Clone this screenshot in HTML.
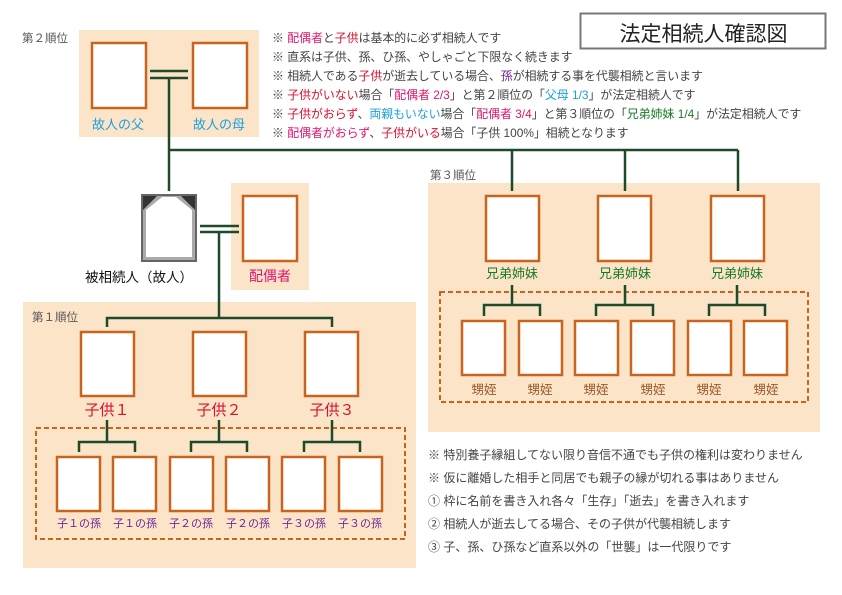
<!DOCTYPE html>
<html><head><meta charset="utf-8"><style>
body{margin:0;width:842px;height:595px;background:#fff;overflow:hidden;position:relative;font-family:"Liberation Sans","Noto Sans CJK JP",sans-serif}
.a{position:absolute;white-space:nowrap}
.n{font-size:11.9px;color:#444;left:272px}
.b{font-size:12px;color:#444;left:428px}
.r{color:#e0146e}.c{color:#d8102c}.bl{color:#1aa0e0}.p{color:#6a2a9a}.g{color:#1a7a2a}
.lb{font-size:12.5px;text-align:center;width:80px}
.s{font-size:11px;text-align:center;width:60px}
</style></head><body>
<svg width="842" height="595" style="position:absolute;left:0;top:0">
<g fill="#fbe4c8">
<rect x="79" y="30" width="180" height="107"/>
<rect x="231" y="183" width="78" height="107"/>
<rect x="23" y="302" width="393" height="266"/>
<rect x="428" y="183" width="392" height="249"/>
</g>
<rect x="580.5" y="13.5" width="245" height="35" fill="#fff" stroke="#777" stroke-width="2"/>
<g fill="#fff" stroke="#c8641e" stroke-width="2.5">
<rect x="92" y="43" width="54" height="65"/>
<rect x="193" y="43" width="54" height="65"/>
<rect x="243" y="196" width="54" height="65"/>
<rect x="81" y="332" width="53" height="64"/>
<rect x="193" y="332" width="53" height="64"/>
<rect x="305" y="332" width="53" height="64"/>
<rect x="486" y="196" width="53" height="65"/>
<rect x="598" y="196" width="53" height="65"/>
<rect x="711" y="196" width="53" height="65"/>
<rect x="57" y="457" width="43" height="54"/><rect x="113" y="457" width="43" height="54"/>
<rect x="170" y="457" width="43" height="54"/><rect x="226" y="457" width="43" height="54"/>
<rect x="282" y="457" width="43" height="54"/><rect x="339" y="457" width="43" height="54"/>
<rect x="462" y="321" width="43" height="54"/><rect x="519" y="321" width="43" height="54"/>
<rect x="575" y="321" width="43" height="54"/><rect x="631" y="321" width="43" height="54"/>
<rect x="688" y="321" width="43" height="54"/><rect x="744" y="321" width="43" height="54"/>
</g>
<g fill="none" stroke="#c8641e" stroke-width="2" stroke-dasharray="5,3">
<rect x="36" y="428" width="369" height="111"/>
<rect x="440" y="292" width="368" height="110"/>
</g>
<rect x="141" y="194" width="56" height="68" fill="#666"/>
<rect x="143" y="196" width="52" height="64" fill="#aaa"/>
<polygon points="146,210 162,197 176,197 192,210 192,257 146,257" fill="#fff"/>
<polygon points="143,196 157,196 143,210" fill="#333"/>
<polygon points="195,196 181,196 195,210" fill="#333"/>
<g stroke="#1e4a2a" stroke-width="2.5" fill="none">
<line x1="150" y1="71" x2="188" y2="71"/><line x1="150" y1="78" x2="188" y2="78"/>
<line x1="169" y1="78" x2="169" y2="191"/>
<polyline points="169,150 738,150"/>
<line x1="512" y1="150" x2="512" y2="191"/><line x1="625" y1="150" x2="625" y2="191"/><line x1="738" y1="150" x2="738" y2="191"/>
<line x1="200" y1="226" x2="239" y2="226"/><line x1="200" y1="232" x2="239" y2="232"/>
<line x1="219" y1="232" x2="219" y2="318"/>
<polyline points="107,327 107,318 332,318 332,327"/>
<line x1="107" y1="420" x2="107" y2="442"/><polyline points="79,452 79,442 135,442 135,452"/>
<line x1="219" y1="420" x2="219" y2="442"/><polyline points="191,452 191,442 247,442 247,452"/>
<line x1="332" y1="420" x2="332" y2="442"/><polyline points="304,452 304,442 360,442 360,452"/>
<line x1="512" y1="285" x2="512" y2="305"/><polyline points="484,316 484,305 540,305 540,316"/>
<line x1="625" y1="285" x2="625" y2="305"/><polyline points="596,316 596,305 653,305 653,316"/>
<line x1="737" y1="285" x2="737" y2="305"/><polyline points="709,316 709,305 765,305 765,316"/>
</g>
</svg>
<div class="a" style="left:22px;top:30px;font-size:11.5px;color:#555">第２順位</div>
<div class="a" style="left:32px;top:309px;font-size:11.5px;color:#555">第１順位</div>
<div class="a" style="left:430px;top:167px;font-size:11.5px;color:#555">第３順位</div>
<div class="a" style="left:580px;top:18px;width:247px;text-align:center;font-size:21px;color:#222">法定相続人確認図</div>
<div class="a n" style="top:29px">※ <span class="r">配偶者</span>と<span class="c">子供</span>は基本的に必ず相続人です</div>
<div class="a n" style="top:48px">※ 直系は子供、孫、ひ孫、やしゃごと下限なく続きます</div>
<div class="a n" style="top:67px">※ 相続人である<span class="c">子供</span>が逝去している場合、<span class="p">孫</span>が相続する事を代襲相続と言います</div>
<div class="a n" style="top:86px">※ <span class="c">子供がいない</span>場合「<span class="r">配偶者 2/3</span>」と第２順位の「<span class="bl">父母 1/3</span>」が法定相続人です</div>
<div class="a n" style="top:105px">※ <span class="c">子供がおらず</span>、<span class="bl">両親もいない</span>場合「<span class="r">配偶者 3/4</span>」と第３順位の「<span class="g">兄弟姉妹 1/4</span>」が法定相続人です</div>
<div class="a n" style="top:124px">※ <span class="r">配偶者がおらず</span>、<span class="c">子供がいる</span>場合「子供 100%」相続となります</div>
<div class="a lb bl" style="left:78px;top:114px;font-size:13px">故人の父</div>
<div class="a lb bl" style="left:179px;top:114px;font-size:13px">故人の母</div>
<div class="a" style="left:85px;top:266px;font-size:13.5px;color:#111">被相続人（故人）</div>
<div class="a lb r" style="left:230px;top:266px;font-size:14px">配偶者</div>
<div class="a lb c" style="left:67px;top:399px;font-size:15px">子供１</div>
<div class="a lb c" style="left:179px;top:399px;font-size:15px">子供２</div>
<div class="a lb c" style="left:292px;top:399px;font-size:15px">子供３</div>
<div class="a s p" style="left:49px;top:515px">子１の孫</div>
<div class="a s p" style="left:105px;top:515px">子１の孫</div>
<div class="a s p" style="left:161px;top:515px">子２の孫</div>
<div class="a s p" style="left:218px;top:515px">子２の孫</div>
<div class="a s p" style="left:274px;top:515px">子３の孫</div>
<div class="a s p" style="left:330px;top:515px">子３の孫</div>
<div class="a lb g" style="left:472px;top:263px;font-size:13px">兄弟姉妹</div>
<div class="a lb g" style="left:585px;top:263px;font-size:13px">兄弟姉妹</div>
<div class="a lb g" style="left:697px;top:263px;font-size:13px">兄弟姉妹</div>
<div class="a s" style="left:454px;top:379px;color:#9a5a2a;font-size:12.5px">甥姪</div>
<div class="a s" style="left:510px;top:379px;color:#9a5a2a;font-size:12.5px">甥姪</div>
<div class="a s" style="left:566px;top:379px;color:#9a5a2a;font-size:12.5px">甥姪</div>
<div class="a s" style="left:623px;top:379px;color:#9a5a2a;font-size:12.5px">甥姪</div>
<div class="a s" style="left:679px;top:379px;color:#9a5a2a;font-size:12.5px">甥姪</div>
<div class="a s" style="left:736px;top:379px;color:#9a5a2a;font-size:12.5px">甥姪</div>
<div class="a b" style="top:446px">※ 特別養子縁組してない限り音信不通でも子供の権利は変わりません</div>
<div class="a b" style="top:469px">※ 仮に離婚した相手と同居でも親子の縁が切れる事はありません</div>
<div class="a b" style="top:492px">① 枠に名前を書き入れ各々「生存」「逝去」を書き入れます</div>
<div class="a b" style="top:515px">② 相続人が逝去してる場合、その子供が代襲相続します</div>
<div class="a b" style="top:538px">③ 子、孫、ひ孫など直系以外の「世襲」は一代限りです</div>
</body></html>
